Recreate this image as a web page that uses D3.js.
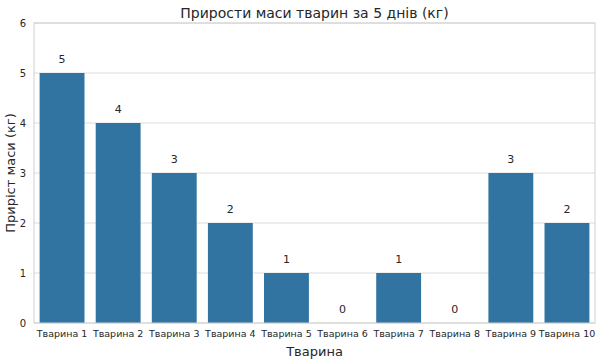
<!DOCTYPE html>
<html><head><meta charset="utf-8">
<script src="https://cdn.jsdelivr.net/npm/d3@7"></script>
<style>body{margin:0;background:#fff}svg{display:block}</style>
</head><body>
<svg id="c" width="600" height="360"></svg>
<script>
const categories = ["Тварина 1","Тварина 2","Тварина 3","Тварина 4","Тварина 5","Тварина 6","Тварина 7","Тварина 8","Тварина 9","Тварина 10"];
const values = [5,4,3,2,1,0,1,0,3,2];
const yTicks = [0,1,2,3,4,5,6];
const title = "Прирости маси тварин за 5 днів (кг)";
const xTitle = "Тварина";
const yTitle = "Приріст маси (кг)";

const svg = d3.select("#c");
const m = {l:34, r:5, t:23, b:37};
const W = 600, H = 360;
const x = d3.scaleBand().domain(categories).range([m.l, W-m.r]).paddingInner(0.2).paddingOuter(0.1);
const y = d3.scaleLinear().domain([0,6]).range([H-m.b, m.t]);
const font = "DejaVu Sans, sans-serif";

// grid
svg.append("g").selectAll("line").data(yTicks).join("line")
  .attr("x1", m.l).attr("x2", W-m.r).attr("y1", d=>y(d)).attr("y2", d=>y(d))
  .attr("stroke", "#dcdcdc").attr("stroke-width", 1);

// bars
svg.append("g").selectAll("rect").data(values).join("rect")
  .attr("x", (d,i)=>x(categories[i])).attr("width", x.bandwidth())
  .attr("y", d=>y(d)).attr("height", d=>y(0)-y(d))
  .attr("fill", "#3274a1");

// frame
svg.append("rect").attr("x", m.l).attr("y", m.t).attr("width", W-m.l-m.r).attr("height", H-m.t-m.b)
  .attr("fill","none").attr("stroke","#d0d0d0").attr("stroke-width",1);

// value labels
svg.append("g").selectAll("text").data(values).join("text")
  .attr("x", (d,i)=>x(categories[i])+x.bandwidth()/2).attr("y", d=>y(d)-10)
  .attr("text-anchor","middle").attr("font-family",font).attr("font-size",11).attr("fill","#262626")
  .text(d=>d);

// y axis
const ya = d3.axisLeft(y).tickValues(yTicks).tickSize(0).tickPadding(8).tickFormat(d3.format("d"));
const gy = svg.append("g").attr("transform",`translate(${m.l},0)`).call(ya);
gy.select(".domain").remove();
gy.selectAll("text").attr("font-family",font).attr("font-size",10).attr("fill","#262626");

// x axis
const xa = d3.axisBottom(x).tickSize(0).tickPadding(7);
const gx = svg.append("g").attr("transform",`translate(0,${H-m.b})`).call(xa);
gx.select(".domain").remove();
gx.selectAll("text").attr("font-family",font).attr("font-size",9.5).attr("fill","#262626");

// titles
svg.append("text").attr("x",(m.l+W-m.r)/2).attr("y",18).attr("text-anchor","middle")
  .attr("font-family",font).attr("font-size",14).attr("fill","#262626").text(title);
svg.append("text").attr("x",(m.l+W-m.r)/2).attr("y",356).attr("text-anchor","middle")
  .attr("font-family",font).attr("font-size",13).attr("fill","#262626").text(xTitle);
svg.append("text").attr("transform",`translate(15,${(m.t+H-m.b)/2}) rotate(-90)`).attr("text-anchor","middle")
  .attr("font-family",font).attr("font-size",13).attr("fill","#262626").text(yTitle);
</script>
</body></html>
